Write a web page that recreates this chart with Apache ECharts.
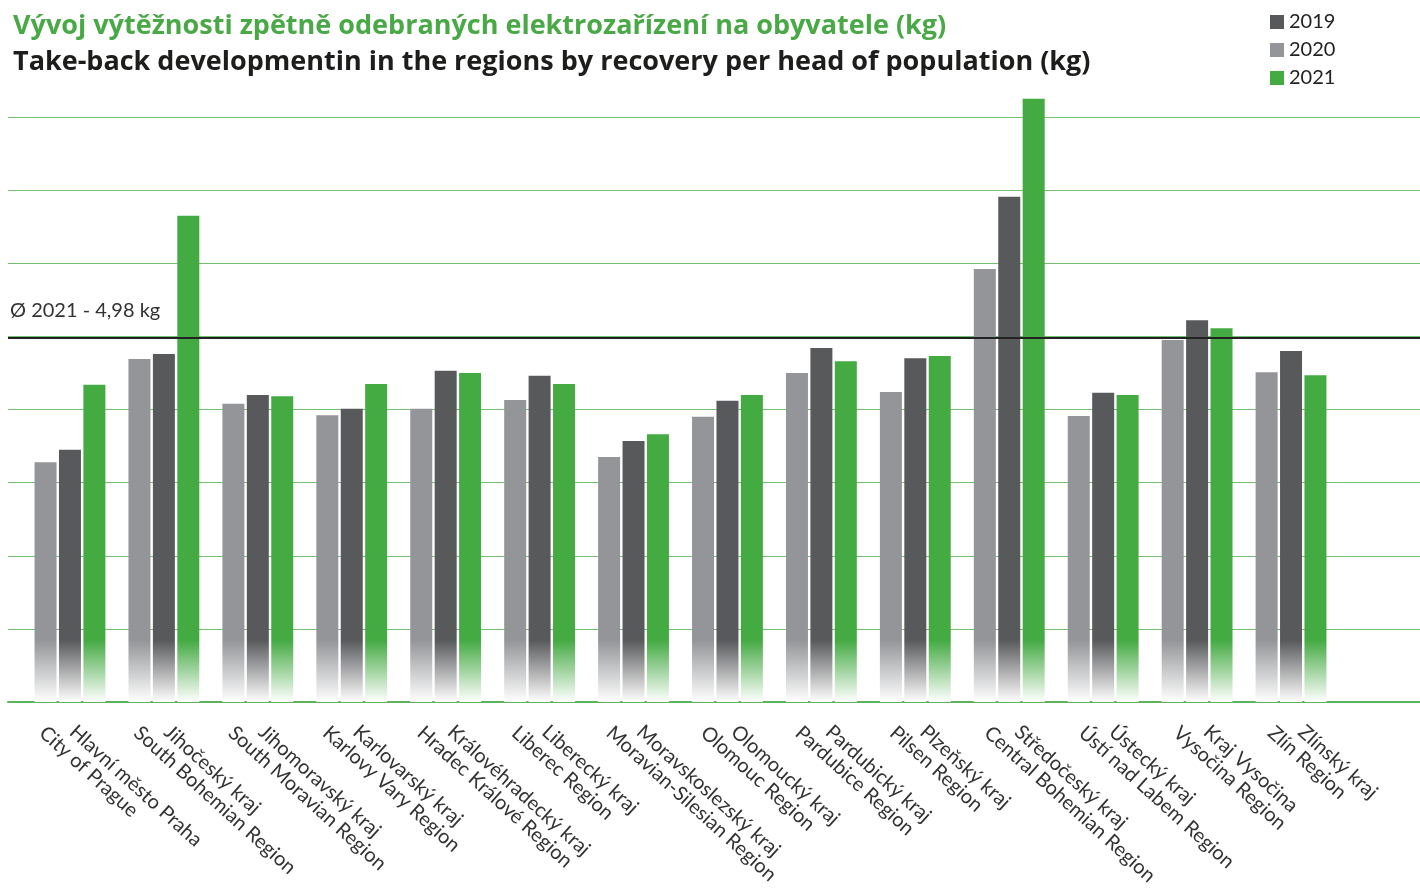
<html>
<head>
    <meta charset="utf-8" />
    <script src="https://cdn.jsdelivr.net/npm/echarts@6/dist/echarts.min.js"></script>
    <style>
        html, body { margin: 0; padding: 0; background: #fff; }
        #chart { width: 1420px; height: 888px; }
    </style>
</head>
<body>
    <div id="chart"></div>
    <script>
        // regions: czech name + english name
        var regionsCz = ['Hlavní město Praha', 'Jihočeský kraj', 'Jihomoravský kraj', 'Karlovarský kraj',
            'Královéhradecký kraj', 'Liberecký kraj', 'Moravskoslezský kraj', 'Olomoucký kraj',
            'Pardubický kraj', 'Plzeňský kraj', 'Středočeský kraj', 'Ústecký kraj', 'Kraj Vysočina', 'Zlínský kraj'];
        var regionsEn = ['City of Prague', 'South Bohemian Region', 'South Moravian Region', 'Karlovy Vary Region',
            'Hradec Králové Region', 'Liberec Region', 'Moravian-Silesian Region', 'Olomouc Region',
            'Pardubice Region', 'Pilsen Region', 'Central Bohemian Region', 'Ústí nad Labem Region', 'Vysočina Region', 'Zlín Region'];

        // kg per head
        var values2020 = [3.28, 4.69, 4.08, 3.92, 4.01, 4.13, 3.35, 3.90, 4.50, 4.24, 5.92, 3.91, 4.95, 4.51];
        var values2019 = [3.45, 4.76, 4.20, 4.01, 4.53, 4.46, 3.57, 4.12, 4.84, 4.70, 6.91, 4.23, 5.22, 4.80];
        var values2021 = [4.34, 6.65, 4.18, 4.35, 4.50, 4.35, 3.66, 4.20, 4.66, 4.73, 8.25, 4.20, 5.11, 4.47];
        var avg2021 = 4.98;

        var categories = regionsCz.map(function (cz, i) { return cz + '\n' + regionsEn[i]; });

        var colDark = '#58595b', colLight = '#939598', colGreen = '#44aa42';
        var fade = function (c) {
            return {
                type: 'linear', x: 0, y: 640, x2: 0, y2: 702, global: true,
                colorStops: [{ offset: 0, color: c }, { offset: 1, color: '#ffffff' }]
            };
        };

        var chart = echarts.init(document.getElementById('chart'));

        var gridTop = 117, gridBottom = 186;

        var barSeries = function (name, data, color) {
            return {
                name: name, type: 'bar', xAxisIndex: 1, yAxisIndex: 1,
                data: data, barWidth: 22, barGap: '11%', clip: false,
                itemStyle: { color: fade(color) }
            };
        };

        chart.setOption({
            animation: false,
            textStyle: { fontFamily: 'Lato' },
            title: [
                {
                    text: 'Vývoj výtěžnosti zpětně odebraných elektrozařízení na obyvatele (kg)',
                    left: 8, top: 8,
                    textStyle: { fontFamily: 'Open Sans', fontWeight: 'bold', fontSize: 27, color: '#4aa947' }
                },
                {
                    text: 'Take-back developmentin in the regions by recovery per head of population (kg)',
                    left: 8, top: 44,
                    textStyle: { fontFamily: 'Open Sans', fontWeight: 'bold', fontSize: 27, color: '#1d1d1b' }
                }
            ],
            legend: {
                orient: 'vertical', left: 1265, top: 7,
                itemWidth: 14, itemHeight: 14, itemGap: 8, icon: 'rect',
                textStyle: { fontFamily: 'Lato', fontSize: 20, color: '#222', lineHeight: 20 },
                data: [
                    { name: '2019', itemStyle: { color: colDark } },
                    { name: '2020', itemStyle: { color: colLight } },
                    { name: '2021', itemStyle: { color: colGreen } }
                ]
            },
            grid: [
                { left: 8, right: 0, top: gridTop, bottom: gridBottom },
                { left: 23, width: 1315, top: gridTop, bottom: gridBottom },
                { left: 2, width: 1323, top: gridTop, bottom: gridBottom }
            ],
            xAxis: [
                {
                    gridIndex: 0, type: 'value', min: 0, max: 1,
                    axisLine: { show: true, lineStyle: { color: '#5cb35a', width: 2 } },
                    axisTick: { show: false }, axisLabel: { show: false }, splitLine: { show: false }
                },
                {
                    gridIndex: 1, type: 'category', data: categories,
                    axisLine: { show: false }, axisTick: { show: false }, axisLabel: { show: false }
                },
                {
                    gridIndex: 2, type: 'category', data: categories,
                    axisLine: { show: false }, axisTick: { show: false },
                    axisLabel: {
                        interval: 0, rotate: -42, margin: 21,
                        formatter: function (v) {
                            var p = v.split('\n');
                            return '{a|' + p[0] + '}\n{b|' + p[1] + '}';
                        },
                        rich: {
                            a: { fontFamily: 'Lato', fontSize: 20, color: '#333', lineHeight: 21, padding: [0, 0, 0, 22] },
                            b: { fontFamily: 'Lato', fontSize: 20, color: '#333', lineHeight: 21 }
                        }
                    }
                }
            ],
            yAxis: [
                {
                    gridIndex: 0, type: 'value', min: 0, max: 8, interval: 1,
                    axisLine: { show: false }, axisTick: { show: false }, axisLabel: { show: false },
                    splitLine: { lineStyle: { color: '#74c072', width: 1 } }
                },
                {
                    gridIndex: 1, type: 'value', min: 0, max: 8, interval: 1, show: false
                },
                {
                    gridIndex: 2, type: 'value', min: 0, max: 8, interval: 1, show: false
                }
            ],
            series: [
                barSeries('2020', values2020, colLight),
                barSeries('2019', values2019, colDark),
                barSeries('2021', values2021, colGreen),
                {
                    name: 'avg', type: 'line', xAxisIndex: 0, yAxisIndex: 0, data: [],
                    markLine: {
                        silent: true, symbol: 'none',
                        lineStyle: { color: '#222', width: 2, type: 'solid' },
                        label: {
                            position: 'insideStartTop', distance: [2, 17],
                            formatter: 'Ø 2021 - 4,98 kg',
                            fontFamily: 'Lato', fontSize: 20, color: '#333'
                        },
                        data: [{ yAxis: avg2021 }]
                    }
                }
            ]
        });
    </script>
</body>
</html>
